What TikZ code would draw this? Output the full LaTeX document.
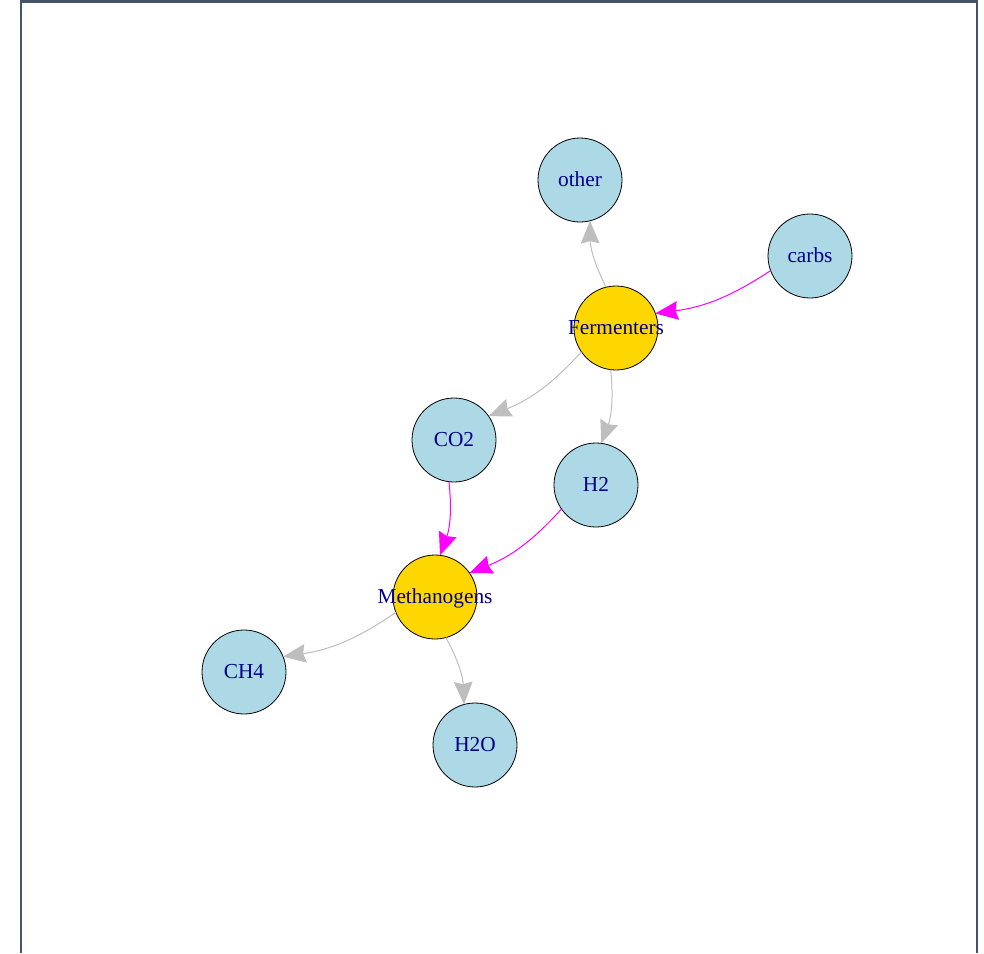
\documentclass[tikz,border=0pt]{standalone}
\usepackage{fontspec}
\setmainfont{Liberation Serif}
\usetikzlibrary{arrows.meta,calc}
\definecolor{nodeblue}{HTML}{ADD8E6}
\definecolor{nodegold}{HTML}{FFD700}
\definecolor{edgegray}{HTML}{BEBEBE}
\definecolor{edgemag}{HTML}{FF00FF}
\definecolor{labelblue}{HTML}{00008B}
\definecolor{framecol}{RGB}{68,84,106}
\tikzset{
  lbl/.style={text=labelblue, font=\fontsize{16}{18}\selectfont, inner sep=0pt,
    text height=0.9em, text depth=0pt},
  vtx/.style={circle, draw=black, line width=0.6pt, minimum size=63pt, inner sep=0pt},
  sub/.style={vtx, fill=nodeblue},
  org/.style={vtx, fill=nodegold},
  edg/.style={line width=0.75pt, -{Stealth[length=17pt,width=14pt,inset=1.8pt]}, bend left=13},
  grayedge/.style={edg, draw=edgegray},
  magedge/.style={edg, draw=edgemag},
}
\newcommand{\vedge}[3]{\draw[#1] ($(#2)!31.5pt!(#3)$) to ($(#3)!31.5pt!(#2)$);}
\begin{document}
\begin{tikzpicture}[x=0.75pt, y=-0.75pt]
\useasboundingbox (0,0) rectangle (984,953);
\draw[framecol, line width=1.5pt] (21,953) -- (21,1.5) -- (977,1.5) -- (977,953);
\node[sub, label={[lbl]center:other}] (other) at (580,180) {};
\node[sub, label={[lbl]center:carbs}] (carbs) at (810,256) {};
\node[org, label={[lbl]center:Fermenters}] (ferm) at (616,328) {};
\node[sub, label={[lbl]center:CO2}] (co2) at (454,440) {};
\node[sub, label={[lbl]center:H2}] (h2) at (596,485) {};
\node[org, label={[lbl]center:Methanogens}] (meth) at (435,597) {};
\node[sub, label={[lbl]center:CH4}] (ch4) at (244,672) {};
\node[sub, label={[lbl]center:H2O}] (h2o) at (475,745) {};
\vedge{grayedge}{ferm}{other}
\vedge{magedge}{carbs}{ferm}
\vedge{grayedge}{ferm}{co2}
\vedge{grayedge}{ferm}{h2}
\vedge{magedge}{co2}{meth}
\vedge{magedge}{h2}{meth}
\vedge{grayedge}{meth}{ch4}
\vedge{grayedge}{meth}{h2o}
\end{tikzpicture}
\end{document}
